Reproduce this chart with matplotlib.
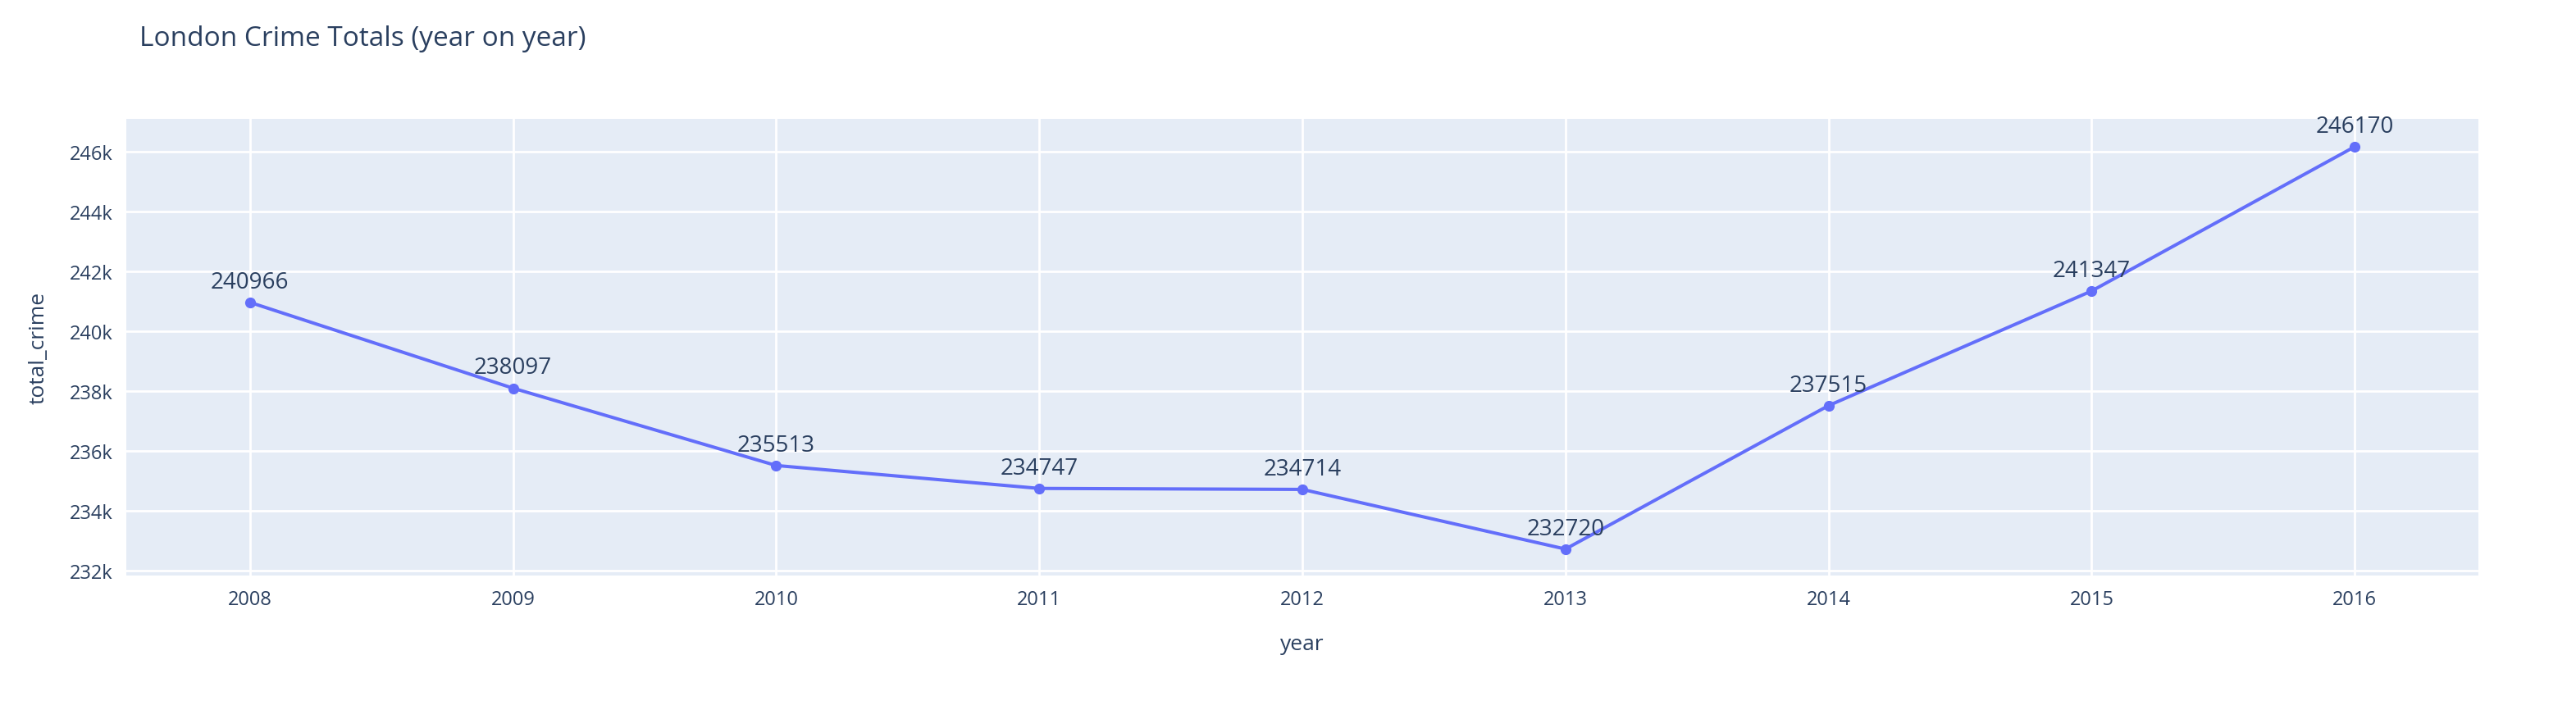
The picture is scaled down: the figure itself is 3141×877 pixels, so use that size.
import matplotlib.pyplot as plt

years = [2008, 2009, 2010, 2011, 2012, 2013, 2014, 2015, 2016]
total_crime = [240966, 238097, 235513, 234747, 234714, 232720, 237515, 241347, 246170]

plt.rcParams['font.family'] = ['Open Sans', 'DejaVu Sans']
text_col = '#2a3f5f'

fig = plt.figure(figsize=(31.41, 8.78), dpi=100)
ax = fig.add_axes([154 / 3141, 1 - 703 / 878, (3022 - 154) / 3141, (703 - 146) / 878])
ax.set_facecolor('#E5ECF6')
for s in ax.spines.values():
    s.set_visible(False)

ax.plot(years, total_crime, color='#636EFA', lw=2.9, marker='o', ms=8.5, zorder=3)
for x, y in zip(years, total_crime):
    ax.annotate(str(y), (x, y), xytext=(0, 8), textcoords='offset points',
                ha='center', va='bottom', fontsize=20, color=text_col, zorder=4)

ax.set_xlim(2007.53, 2016.47)
ax.set_ylim(231835, 247100)
ax.set_xticks(years)
ax.set_yticks(range(232000, 246001, 2000))
ax.set_yticklabels([f'{v // 1000}k' for v in range(232000, 246001, 2000)])
ax.grid(color='white', lw=2)
ax.set_axisbelow(True)
ax.tick_params(length=0, labelsize=17, colors=text_col, pad=12)
ax.set_xlabel('year', fontsize=19, color=text_col, labelpad=22)
ax.set_ylabel('total_crime', fontsize=19, color=text_col, labelpad=18)

fig.text(170 / 3141, 1 - 48 / 878, 'London Crime Totals (year on year)',
         fontsize=24, color=text_col, va='center', ha='left')

fig.savefig('out.png', dpi=100, facecolor='white')
